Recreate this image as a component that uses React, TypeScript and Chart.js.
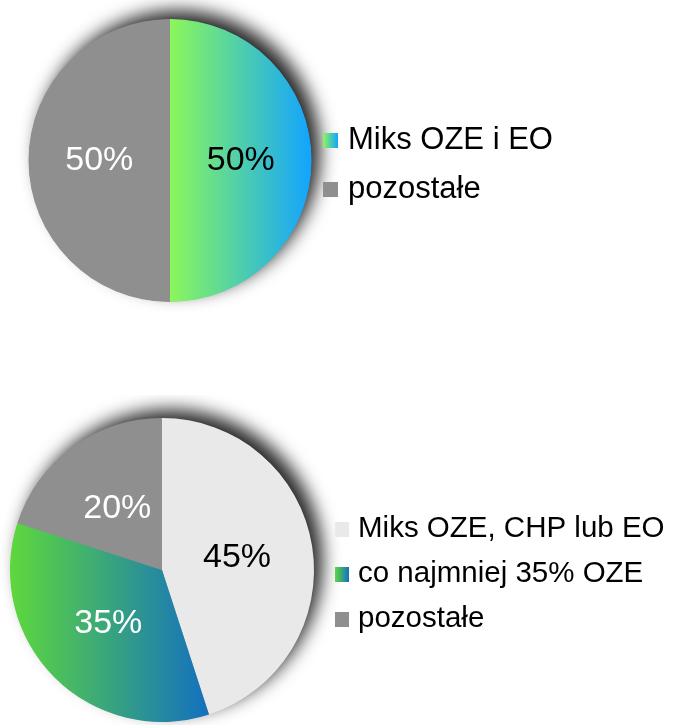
import React, { useEffect, useRef } from 'react';
import { Chart, registerables } from 'chart.js';

Chart.register(...registerables);

const FONT = "'Liberation Sans', Arial, Helvetica, sans-serif";

// ---- data ----
const topLabels = ['Miks OZE i EO', 'pozostałe'];
const topValues = [50, 50];

const bottomLabels = ['Miks OZE, CHP lub EO', 'co najmniej 35% OZE', 'pozostałe'];
const bottomValues = [45, 35, 20];

// ---- styles ----
type Fill = string | [string, string];
const topFills: Fill[] = [['#8cf75a', '#12a4ff'], '#8f8f8f'];
const topTextColors = ['#000000', '#ffffff'];
const bottomFills: Fill[] = ['#e9e9e9', ['#5ed83c', '#1370c0'], '#8f8f8f'];
const bottomTextColors = ['#000000', '#ffffff', '#ffffff'];

function sliceXRange(values: number[], i: number, cx: number, r: number): [number, number] {
  const total = values.reduce((a, b) => a + b, 0);
  const before = values.slice(0, i).reduce((a, b) => a + b, 0);
  const a0 = -Math.PI / 2 + (2 * Math.PI * before) / total;
  const a1 = a0 + (2 * Math.PI * values[i]) / total;
  let mn = cx;
  let mx = cx;
  const steps = 90;
  for (let k = 0; k <= steps; k++) {
    const a = a0 + ((a1 - a0) * k) / steps;
    const x = cx + r * Math.cos(a);
    mn = Math.min(mn, x);
    mx = Math.max(mx, x);
  }
  return [mn, mx];
}

function makeSwatch(fill: Fill, w: number, h: number): HTMLCanvasElement {
  const c = document.createElement('canvas');
  c.width = w;
  c.height = h;
  const g = c.getContext('2d')!;
  if (Array.isArray(fill)) {
    const grad = g.createLinearGradient(0, 0, w, 0);
    grad.addColorStop(0, fill[0]);
    grad.addColorStop(1, fill[1]);
    g.fillStyle = grad;
  } else {
    g.fillStyle = fill;
  }
  g.fillRect(0, 0, w, h);
  return c;
}

const shadowPlugin = {
  id: 'pieShadow',
  beforeDatasetsDraw(chart: any) {
    const arc = chart.getDatasetMeta(0).data[0];
    if (!arc) return;
    const { x, y, outerRadius } = arc.getProps(['x', 'y', 'outerRadius'], true);
    const ctx = chart.ctx as CanvasRenderingContext2D;
    ctx.save();
    ctx.shadowColor = 'rgba(0,0,0,0.85)';
    ctx.shadowBlur = 18;
    ctx.shadowOffsetX = 9;
    ctx.shadowOffsetY = -9;
    ctx.beginPath();
    ctx.arc(x, y, Math.max(outerRadius - 0.5, 0), 0, Math.PI * 2);
    ctx.fillStyle = '#8f8f8f';
    ctx.fill();
    ctx.restore();
  },
};

function sliceLabelPlugin(textColors: string[], size: number) {
  return {
    id: 'sliceLabels',
    afterDatasetsDraw(chart: any) {
      const meta = chart.getDatasetMeta(0);
      const data = chart.data.datasets[0].data as number[];
      const ctx = chart.ctx as CanvasRenderingContext2D;
      ctx.save();
      ctx.font = `${size}px ${FONT}`;
      ctx.textAlign = 'center';
      ctx.textBaseline = 'middle';
      meta.data.forEach((arc: any, i: number) => {
        const p = arc.tooltipPosition(true);
        ctx.fillStyle = textColors[i];
        ctx.fillText(`${data[i]}%`, p.x, p.y);
      });
      ctx.restore();
    },
  };
}

interface LegendCfg {
  swatches: HTMLCanvasElement[];
  size: number;
  gap: number;
  textGap: number;
  spacing: number;
  shiftY: number;
}

function sideLegendPlugin(cfg: LegendCfg) {
  return {
    id: 'sideLegend',
    afterDraw(chart: any) {
      const { ctx, chartArea } = chart;
      const labels = chart.data.labels as string[];
      const n = labels.length;
      const cy = (chartArea.top + chartArea.bottom) / 2 + cfg.shiftY;
      const x = chartArea.right + cfg.gap;
      ctx.save();
      ctx.font = `${cfg.size}px ${FONT}`;
      ctx.textAlign = 'left';
      ctx.textBaseline = 'middle';
      ctx.fillStyle = '#000000';
      labels.forEach((t, i) => {
        const y = cy + (i - (n - 1) / 2) * cfg.spacing;
        const sw = cfg.swatches[i];
        ctx.drawImage(sw, Math.round(x), Math.round(y - sw.height / 2));
        ctx.fillText(t, x + sw.width + cfg.textGap, y);
      });
      ctx.restore();
    },
  };
}

interface PieProps {
  labels: string[];
  values: number[];
  fills: Fill[];
  textColors: string[];
  legendSize: number;
  legendGap: number;
  legendTextGap: number;
  legendSpacing: number;
  legendShift: number;
  pad: { left: number; right: number; top: number; bottom: number };
  swatch: [number, number];
  top: number;
  height: number;
}

function PieBlock(props: PieProps) {
  const ref = useRef<HTMLCanvasElement>(null);
  useEffect(() => {
    const { labels, values, fills, textColors, pad, swatch } = props;
    const swatches = fills.map((f) => makeSwatch(f, swatch[0], swatch[1]));
    const chart = new Chart(ref.current!, {
      type: 'pie',
      data: {
        labels,
        datasets: [
          {
            data: values,
            borderWidth: 0,
            hoverOffset: 0,
            backgroundColor: (c: any) => {
              const i = c.dataIndex;
              if (i === undefined) return '#8f8f8f';
              const f = fills[i];
              if (!Array.isArray(f)) return f;
              const area = c.chart.chartArea;
              if (!area) return f[0];
              const cx = (area.left + area.right) / 2;
              const r = Math.min(area.width, area.height) / 2;
              const [x0, x1] = sliceXRange(values, i, cx, r);
              const g = c.chart.ctx.createLinearGradient(x0, 0, x1, 0);
              g.addColorStop(0, f[0]);
              g.addColorStop(1, f[1]);
              return g;
            },
          } as any,
        ],
      },
      options: {
        responsive: false,
        animation: false,
        events: [],
        layout: { padding: pad },
        plugins: {
          tooltip: { enabled: false },
          legend: { display: false },
        },
      } as any,
      plugins: [
        shadowPlugin,
        sliceLabelPlugin(textColors, 34),
        sideLegendPlugin({
          swatches,
          size: props.legendSize,
          gap: props.legendGap,
          textGap: props.legendTextGap,
          spacing: props.legendSpacing,
          shiftY: props.legendShift,
        }),
      ],
    });
    return () => chart.destroy();
  }, []);
  return (
    <canvas
      ref={ref}
      width={674}
      height={props.height}
      style={{ position: 'absolute', left: 0, top: props.top, display: 'block' }}
    />
  );
}

export default function App() {
  return (
    <div style={{ position: 'absolute', left: 0, top: 0, width: 674, height: 725, background: '#ffffff', overflow: 'hidden' }}>
      <PieBlock
        labels={topLabels}
        values={topValues}
        fills={topFills}
        textColors={topTextColors}
        legendSize={31}
        legendGap={11}
        legendTextGap={10}
        legendSpacing={49}
        legendShift={4}
        pad={{ left: 28, right: 362, top: 19, bottom: 18 }}
        swatch={[15, 15]}
        top={0}
        height={320}
      />
      <PieBlock
        labels={bottomLabels}
        values={bottomValues}
        fills={bottomFills}
        textColors={bottomTextColors}
        legendSize={29.5}
        legendGap={21}
        legendTextGap={9}
        legendSpacing={45}
        legendShift={4}
        pad={{ left: 10, right: 360, top: 23, bottom: 3 }}
        swatch={[14, 15]}
        top={395}
        height={330}
      />
    </div>
  );
}
